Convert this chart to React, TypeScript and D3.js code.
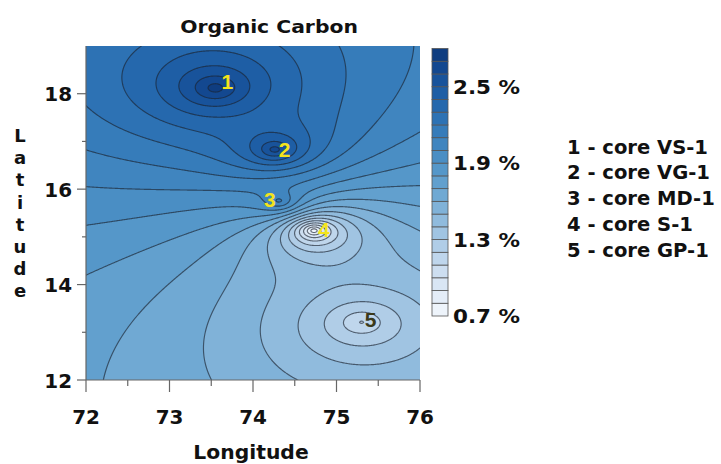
import React, { useMemo } from "react";
import * as d3 from "d3";

// Sediment cores: label, name, position and organic carbon content (%)
const coreIds = ["1", "2", "3", "4", "5"];
const coreNames = ["VS-1", "VG-1", "MD-1", "S-1", "GP-1"];
const coreLon = [73.55, 74.26, 74.31, 74.73, 75.3];
const coreLat = [18.12, 16.83, 15.76, 15.13, 13.21];
const coreOC = [2.76, 2.66, 2.13, 0.72, 1.09];

// Contour levels (0.7 % .. 2.8 % in 0.1 % steps) and the fill of each band
const levels = d3.range(7, 29).map((v) => v / 10);
const bandColors = [
  "#eef4fb", "#e4edf8", "#d9e6f4", "#cddef0", "#bfd6ec", "#b0cde7", "#a0c4e2",
  "#90bbdd", "#80b2d8", "#70a9d3", "#62a0ce", "#5597c9", "#4a8ec4", "#4085bf",
  "#367cba", "#2d72b4", "#2568ad", "#1e5ea5", "#18539b", "#134890", "#0f3d80",
];
const barTicks = [0.7, 1.3, 1.9, 2.5];
const lonTicks = [72, 73, 74, 75, 76];
const lonMinor = [72.5, 73.5, 74.5, 75.5];
const latTicks = [12, 14, 16, 18];
const latMinor = [13, 15, 17];
const latitudeLetters = ["L", "a", "t", "i", "t", "u", "d", "e"];

// Inverse-distance weighting exponent
const POWER = 1.15;

const FONT = "'DejaVu Sans', Verdana, sans-serif";
const LABEL_FONT = "'Liberation Sans', Arial, sans-serif";
const labelDx = [12, 10, -9, 10, 9];
const labelDy = [1.5, 7, 6.5, 6.5, 5];
const labelColors = ["#f4e41c", "#f4e41c", "#f4e41c", "#f4e41c", "#3b3a1c"];

// Gridded organic carbon surface by inverse-distance weighting of the cores
function idw(lon: number, lat: number): number {
  let sw = 0;
  let sv = 0;
  for (let k = 0; k < coreOC.length; k++) {
    const d = Math.hypot(lon - coreLon[k], lat - coreLat[k]);
    if (d < 1e-9) return coreOC[k];
    const w = 1 / Math.pow(d, POWER);
    sw += w;
    sv += w * coreOC[k];
  }
  return sv / sw;
}

function Label(props: {
  x: number;
  y: number;
  sx: number;
  size: number;
  anchor?: string;
  fill?: string;
  family?: string;
  children: React.ReactNode;
}) {
  const { x, y, sx, size, anchor = "start", fill = "#111", family, children } = props;
  return (
    <text
      transform={`translate(${x},${y}) scale(${sx},1)`}
      textAnchor={anchor}
      fontSize={size}
      fill={fill}
      fontFamily={family}
    >
      {children}
    </text>
  );
}

export default function App() {
  const W = 721;
  const H = 464;
  const left = 86;
  const right = 420;
  const top = 46;
  const bottom = 380;

  const x = d3.scaleLinear().domain([72, 76]).range([left, right]);
  const y = d3.scaleLinear().domain([12, 19]).range([bottom, top]);

  const { fills, lines } = useMemo(() => {
    const pad = 6;
    const x0 = left - pad;
    const y0 = top - pad;
    const nx = right - left + 2 * pad;
    const ny = bottom - top + 2 * pad;
    const values = new Float64Array(nx * ny);
    for (let j = 0; j < ny; j++) {
      const lat = y.invert(y0 + j + 0.5);
      for (let i = 0; i < nx; i++) {
        values[j * nx + i] = idw(x.invert(x0 + i + 0.5), lat);
      }
    }
    const gen = d3.contours().size([nx, ny]).smooth(true).thresholds(levels);
    const polys = gen(values);
    const path = d3.geoPath(d3.geoIdentity().translate([x0, y0]));
    const fills = polys
      .map((p, idx) => ({ d: path(p) || "", idx }))
      .filter((p) => p.idx > 0 && p.idx < bandColors.length);
    const lines = polys.slice(1).map((p) => path(p) || "");
    return { fills, lines };
  }, []);

  // Colour bar geometry
  const barX = 432;
  const barW = 16;
  const barTop = 48.5;
  const barBottom = 316;
  const bar = d3.scaleLinear().domain([0.7, 2.8]).range([barBottom, barTop]);

  return (
    <svg
      width={W}
      height={H}
      style={{ position: "absolute", left: 0, top: 0, background: "#fff" }}
      fontFamily={FONT}
      fontWeight="bold"
    >
      <defs>
        <clipPath id="plot-clip">
          <rect x={left} y={top} width={right - left} height={bottom - top} />
        </clipPath>
      </defs>

      <Label x={269} y={33} sx={1.13} size={18} anchor="middle">
        Organic Carbon
      </Label>

      <g clipPath="url(#plot-clip)">
        <rect x={left} y={top} width={right - left} height={bottom - top} fill={bandColors[0]} />
        {fills.map((f) => (
          <path key={"f" + f.idx} d={f.d} fill={bandColors[f.idx]} />
        ))}
        {lines.map((d, i) => (
          <path key={"l" + i} d={d} fill="none" stroke="#1b2430" strokeOpacity={0.65} strokeWidth={1.15} />
        ))}
      </g>

      {/* core labels */}
      {coreIds.map((id, k) => (
        <Label
          key={id}
          x={x(coreLon[k]) + labelDx[k]}
          y={y(coreLat[k]) + labelDy[k]}
          sx={1}
          size={21}
          anchor="middle"
          fill={labelColors[k]}
          family={LABEL_FONT}
        >
          {id}
        </Label>
      ))}

      {/* axes */}
      <g stroke="#666" strokeWidth={1.2}>
        <line x1={left} x2={right} y1={bottom} y2={bottom} />
        <line x1={left} x2={left} y1={top} y2={bottom} />
        {lonTicks.map((t) => (
          <line key={"xt" + t} x1={x(t)} x2={x(t)} y1={bottom} y2={bottom + 12} />
        ))}
        {lonMinor.map((t) => (
          <line key={"xm" + t} x1={x(t)} x2={x(t)} y1={bottom} y2={bottom + 6} />
        ))}
        {latTicks.map((t) => (
          <line key={"yt" + t} x1={left - 9} x2={left} y1={y(t)} y2={y(t)} />
        ))}
        {latMinor.map((t) => (
          <line key={"ym" + t} x1={left - 4} x2={left} y1={y(t)} y2={y(t)} />
        ))}
      </g>
      {lonTicks.map((t) => (
        <Label key={"xl" + t} x={x(t)} y={424} sx={1.05} size={19} anchor="middle">
          {t}
        </Label>
      ))}
      {latTicks.map((t) => (
        <Label key={"yl" + t} x={72} y={y(t) + 7.5} sx={1.05} size={19} anchor="end">
          {t}
        </Label>
      ))}

      <Label x={251} y={459} sx={1.07} size={19} anchor="middle">
        Longitude
      </Label>
      {latitudeLetters.map((ch, i) => (
        <text key={"lat" + i} x={20} y={142 + i * 22.2} textAnchor="middle" fontSize={18} fill="#111">
          {ch}
        </text>
      ))}

      {/* colour bar */}
      {bandColors.map((c, i) => (
        <rect
          key={"b" + i}
          x={barX}
          y={bar(levels[i + 1])}
          width={barW}
          height={bar(levels[i]) - bar(levels[i + 1])}
          fill={c}
          stroke="#555"
          strokeWidth={0.8}
        />
      ))}
      {barTicks.map((t) => (
        <Label key={"bt" + t} x={453} y={bar(t) + 7} sx={1.13} size={19}>
          {t.toFixed(1)} %
        </Label>
      ))}

      {/* legend */}
      {coreIds.map((id, k) => (
        <Label key={"lg" + id} x={567} y={153.5 + k * 25.85} sx={1.03} size={19}>
          {id} - core {coreNames[k]}
        </Label>
      ))}
    </svg>
  );
}
